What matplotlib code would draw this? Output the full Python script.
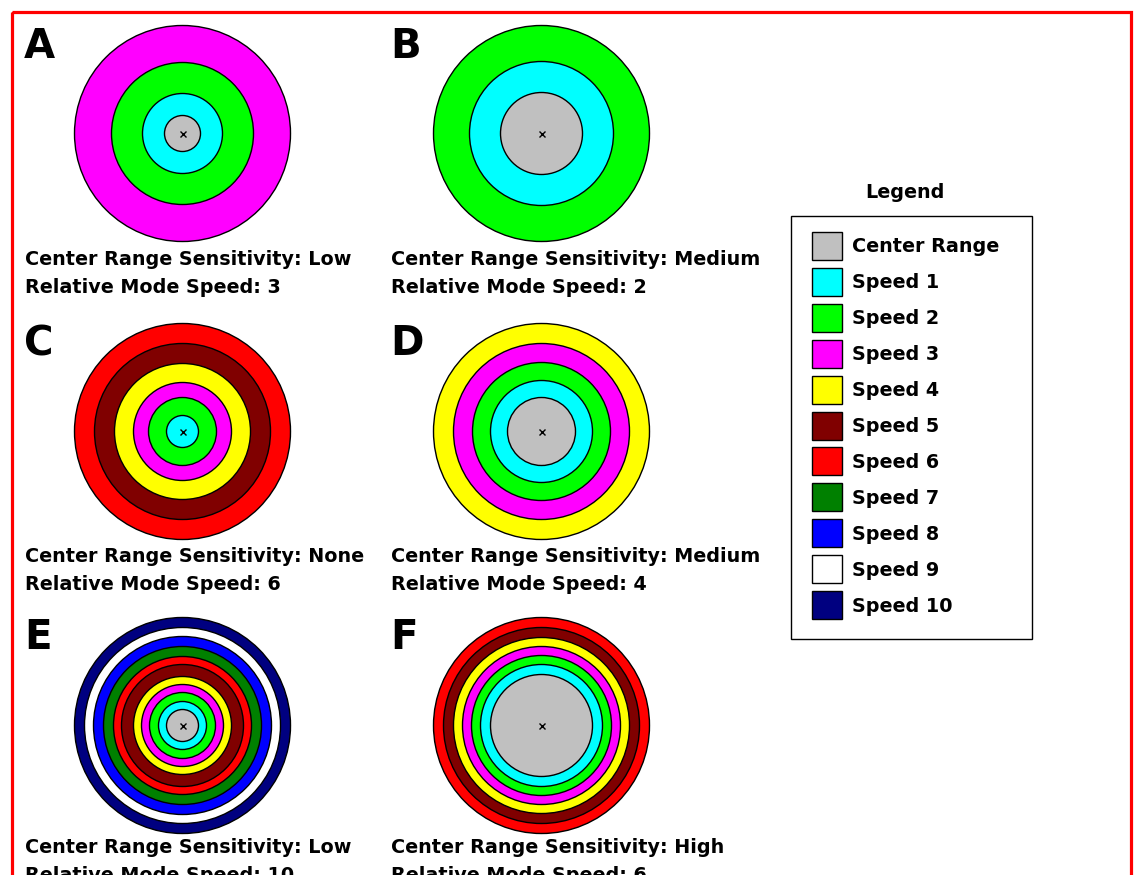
import matplotlib
matplotlib.use("Agg")
import matplotlib.pyplot as plt
from matplotlib.patches import Circle, Rectangle

# ---------------- data ----------------
panel_labels = ["A", "B", "C", "D", "E", "F"]
sensitivity = ["Low", "Medium", "None", "Medium", "Low", "High"]
mode_speed = [3, 2, 6, 4, 10, 6]
center_radius = [18, 41, 0, 34, 16, 51]
speed_radii = [
    [40, 71, 108],
    [72, 108],
    [16, 34, 49, 68, 88, 108],
    [51, 69, 88, 108],
    [24, 33, 41, 49, 61, 69, 79, 89, 98, 108],
    [61, 70, 79, 88, 98, 108],
]
legend_labels = ["Center Range", "Speed 1", "Speed 2", "Speed 3", "Speed 4",
                 "Speed 5", "Speed 6", "Speed 7", "Speed 8", "Speed 9", "Speed 10"]
legend_colors = ["#C0C0C0", "#00FFFF", "#00FF00", "#FF00FF", "#FFFF00",
                 "#800000", "#FF0000", "#008000", "#0000FF", "#FFFFFF", "#000080"]

# ---------------- layout (pixels) ----------------
W, H = 1134, 875
col_x = [182.5, 541.5]
row_y = [133.5, 431.5, 725.5]
letter_base = [58, 355, 649]
caption_base = [265, 562, 853]
col_text_x = [25, 391]

FONT = "DejaVu Sans"
TS = 13.8

fig = plt.figure(figsize=(W / 100, H / 100), dpi=100)
ax = fig.add_axes([0, 0, 1, 1])
ax.set_xlim(0, W)
ax.set_ylim(H, 0)
ax.set_aspect("equal")
ax.axis("off")

# red frame
ax.add_patch(Rectangle((11.5, 11.5), 1119, H + 50, fill=False,
                       edgecolor="#FF0000", lw=2.3, zorder=10, clip_on=False))

for i, lab in enumerate(panel_labels):
    r_i, c_i = divmod(i, 2)
    cx, cy = col_x[c_i], row_y[r_i]
    tx = col_text_x[c_i]
    radii = speed_radii[i]
    # draw from outermost ring inwards
    for k in range(len(radii) - 1, -1, -1):
        ax.add_patch(Circle((cx, cy), radii[k], facecolor=legend_colors[k + 1],
                            edgecolor="black", lw=1.0, zorder=2))
    if center_radius[i] > 0:
        ax.add_patch(Circle((cx, cy), center_radius[i], facecolor=legend_colors[0],
                            edgecolor="black", lw=1.0, zorder=3))
    ax.plot([cx], [cy], marker="x", color="black", markersize=4.5, mew=1.0, zorder=4)

    ax.text(tx - 1, letter_base[r_i], lab, fontsize=29, fontweight="bold",
            family=FONT, va="baseline", ha="left")
    ax.text(tx, caption_base[r_i], f"Center Range Sensitivity: {sensitivity[i]}",
            fontsize=TS, fontweight="bold", family=FONT, va="baseline", ha="left")
    ax.text(tx, caption_base[r_i] + 28, f"Relative Mode Speed: {mode_speed[i]}",
            fontsize=TS, fontweight="bold", family=FONT, va="baseline", ha="left")

# legend
ax.text(905, 193, "Legend", fontsize=TS, fontweight="bold", family=FONT,
        ha="center", va="center")
ax.add_patch(Rectangle((791, 216), 241, 423, fill=False, edgecolor="black",
                       lw=1.0, zorder=5))
y0, dy = 246, 35.9
for j, (lab, col) in enumerate(zip(legend_labels, legend_colors)):
    yy = y0 + j * dy
    ax.add_patch(Rectangle((812, yy - 14), 29.5, 28, facecolor=col,
                           edgecolor="black", lw=1.0, zorder=5))
    ax.text(852, yy + 1, lab, fontsize=TS, fontweight="bold", family=FONT,
            ha="left", va="center")

fig.savefig("out.png", dpi=100)
